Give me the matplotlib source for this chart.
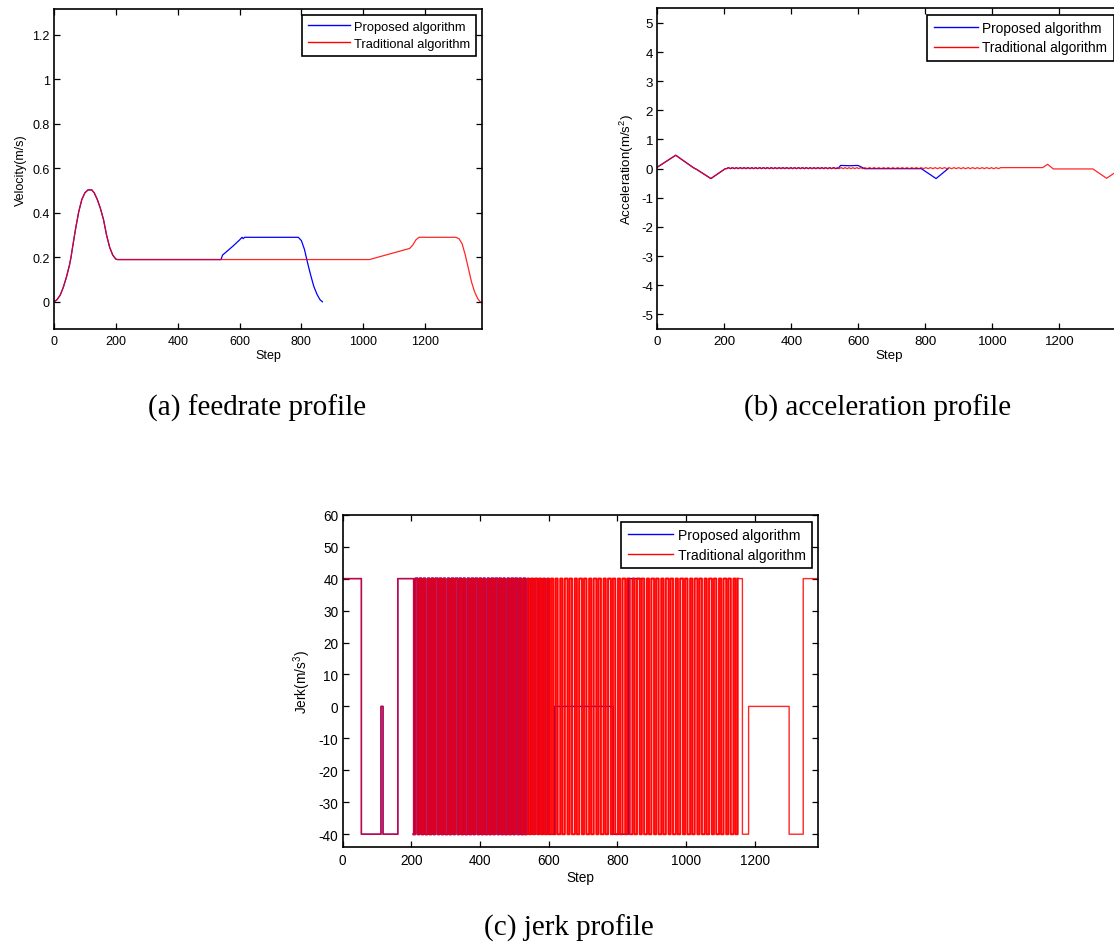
import numpy as np
import matplotlib
matplotlib.use("Agg")
import matplotlib.pyplot as plt

plt.rcParams["font.family"] = ["Liberation Sans", "DejaVu Sans"]
plt.rcParams["axes.unicode_minus"] = False
plt.rcParams["mathtext.default"] = "regular"

BLUE = (0, 0, 1)
RED = (1, 0, 0)
LABELS = ["Proposed algorithm", "Traditional algorithm"]

# ---- (a) feedrate profile: shared start, then each algorithm's own tail
vel_common_step = [0, 10, 20, 30, 40, 50, 55, 60, 70, 80, 90, 100, 110, 122,
                   130, 140, 150, 160, 170, 180, 190, 200, 205, 540]
vel_common_val = [0, 0.01, 0.03, 0.065, 0.11, 0.165, 0.2, 0.245, 0.33, 0.405,
                  0.46, 0.49, 0.503, 0.503, 0.49, 0.46, 0.42, 0.37, 0.30,
                  0.245, 0.21, 0.192, 0.19, 0.19]
vel_prop_step = [545, 560, 580, 600, 608, 612, 616, 790, 800, 810, 820, 830,
                 840, 850, 860, 868]
vel_prop_val = [0.21, 0.228, 0.252, 0.278, 0.29, 0.284, 0.29, 0.29, 0.275,
                0.235, 0.175, 0.12, 0.07, 0.035, 0.01, 0.0]
vel_trad_step = [1020, 1150, 1160, 1170, 1180, 1300, 1310, 1320, 1330, 1340,
                 1350, 1360, 1370, 1378, 1384]
vel_trad_val = [0.19, 0.24, 0.255, 0.278, 0.29, 0.29, 0.283, 0.26, 0.21, 0.15,
                0.09, 0.045, 0.015, 0.0, 0.0]

# ---- (c) jerk profile: switching steps of the bang-bang jerk
jerk_head_step = [0, 55, 112, 118, 161]
jerk_head_val = [40, -40, 0, -40, 40]
# steps where the traditional jerk flips between -40 and +40 (first flip goes to -40)
trad_flips = [207, 212, 219, 224, 230, 236, 241, 248, 253, 259, 265, 270, 277,
              282, 288, 294, 299, 306, 311, 317, 323, 328, 335, 340, 346, 352,
              357, 364, 369, 375, 381, 386, 393, 398, 404, 410, 415, 422, 427,
              433, 439, 444, 451, 456, 462, 468, 473, 480, 485, 491, 497, 502,
              509, 514, 520, 526, 531, 538, 543, 549, 555, 560, 567, 572, 578,
              584, 589, 596, 601, 607, 613,
              620, 626, 634, 640, 647, 655, 661, 668, 676, 682, 689, 697, 703,
              710, 718, 724, 731, 739, 745, 752, 760, 766, 773, 781, 787, 794,
              802, 808, 815, 823, 829, 836, 844, 850, 857, 865, 871, 878, 886,
              892, 899, 907, 913, 920, 928, 934, 941, 949, 955, 962, 970, 976,
              983, 991, 997, 1004, 1012, 1018, 1025, 1033, 1039, 1046, 1054,
              1060, 1067, 1075, 1081, 1088, 1096, 1102, 1109, 1117, 1123, 1130,
              1138, 1144, 1150]
trad_tail_step = [1164, 1182, 1300, 1341, 1384]
trad_tail_val = [-40, 0, -40, 40, 40]
prop_flips = [207, 212, 219, 224, 230, 236, 241, 248, 253, 259, 265, 270, 277,
              282, 288, 294, 299, 306, 311, 317, 323, 328, 335, 340, 346, 352,
              357, 364, 369, 375, 381, 386, 393, 399, 404, 410, 415, 422, 427,
              433, 439, 444, 451, 456, 462, 468, 473, 480, 485, 491, 497, 502,
              509, 515, 520, 527, 533]
prop_tail_step = [541, 547, 552, 558, 563, 570, 575, 581, 586, 592, 597, 601,
                  617, 788, 832, 868]
prop_tail_val = [40, -40, 40, -40, 40, -40, 40, -40, 40, -40, 40, -40, 0, -40,
                 40, 40]

# ---- (b) acceleration profile
acc_head_step = [0, 55, 108, 118, 160, 203]
acc_head_val = [0.05, 0.46, 0.03, -0.03, -0.34, 0.0]
acc_ripple = [0.0, 0.035]          # low / high of the small zig-zag
acc_prop_step = [541, 547, 575, 598, 605, 618, 788, 832, 868]
acc_prop_val = [0.02, 0.11, 0.10, 0.11, 0.08, 0.0, 0.0, -0.34, 0.0]
acc_trad_step = [1025, 1150, 1165, 1182, 1300, 1341, 1384]
acc_trad_val = [0.035, 0.035, 0.15, -0.01, -0.01, -0.33, 0.0]


def alternating(flips, first, second):
    return [first if i % 2 == 0 else second for i in range(len(flips))]


vel_prop_x = vel_common_step + vel_prop_step
vel_prop_y = vel_common_val + vel_prop_val
vel_trad_x = vel_common_step + vel_trad_step
vel_trad_y = vel_common_val + vel_trad_val

prop_dense_y = alternating(prop_flips, -40, 40)
trad_dense_y = alternating(trad_flips, -40, 40)
jerk_prop_x = jerk_head_step + prop_flips + prop_tail_step
jerk_prop_y = jerk_head_val + prop_dense_y + prop_tail_val
jerk_trad_x = jerk_head_step + trad_flips + trad_tail_step
jerk_trad_y = jerk_head_val + trad_dense_y + trad_tail_val

rip_prop = list(prop_flips)
rip_trad = [s for s in trad_flips if s < 1020]
acc_prop_x = acc_head_step + rip_prop + acc_prop_step
acc_prop_y = acc_head_val + alternating(rip_prop, *acc_ripple) + acc_prop_val
acc_trad_x = acc_head_step + rip_trad + acc_trad_step
acc_trad_y = acc_head_val + alternating(rip_trad, *acc_ripple) + acc_trad_val

W, H = 1114, 945
fig = plt.figure(figsize=(W / 100, H / 100), dpi=100)


def px_axes(left, top, right, bottom):
    return fig.add_axes([left / W, 1 - bottom / H, (right - left) / W,
                         (bottom - top) / H])


def style(ax, fs, yticks, ylabels, ylim, ylabel, leg_anchor):
    ax.set_xlim(0, 1384)
    ax.set_ylim(*ylim)
    ax.set_xticks(range(0, 1201, 200))
    ax.set_yticks(yticks)
    ax.set_yticklabels(ylabels)
    ax.tick_params(direction="in", top=True, right=True, length=4, width=0.9,
                   labelsize=fs)
    ax.tick_params(axis="x", pad=4)
    ax.tick_params(axis="y", pad=3)
    for sp in ax.spines.values():
        sp.set_linewidth(1.2)
    ax.set_xlabel("Step", fontsize=fs, labelpad=2)
    ax.set_ylabel(ylabel, fontsize=fs, labelpad=4)
    leg = ax.legend(ax.lines[:2], LABELS, loc="upper right",
                    bbox_to_anchor=leg_anchor,
                    fontsize=fs + 0.3, fancybox=False, framealpha=1,
                    edgecolor="black", handlelength=3.2, handletextpad=0.35,
                    borderpad=0.45, labelspacing=0.4, borderaxespad=0)
    leg.get_frame().set_linewidth(1.2)
    for h in leg.get_lines():
        h.set_alpha(1)
        h.set_linewidth(1.0)


# (a)
ax = px_axes(54, 9.5, 482, 330)
ax.plot(vel_prop_x, vel_prop_y, color=BLUE, lw=0.9)
ax.plot(vel_trad_x, vel_trad_y, color=RED, lw=0.9, alpha=0.85)
style(ax, 9, np.arange(0, 1.21, 0.2), ["0", "0.2", "0.4", "0.6", "0.8", "1", "1.2"],
      (-0.122, 1.318), "Velocity(m/s)", (0.986, 0.98))

# (b)
ax = px_axes(657.3, 9.3, 1121, 330)
ax.plot(acc_prop_x, acc_prop_y, color=BLUE, lw=0.9)
ax.plot(acc_trad_x, acc_trad_y, color=RED, lw=0.9, alpha=0.85)
style(ax, 9.6, range(-5, 6), [str(v) for v in range(-5, 6)], (-5.5, 5.5),
      "Acceleration(m/s$^{2}$)", (0.984, 0.98))

# (c): whole signal thin, the densely switching stretch drawn a bit heavier
ax = px_axes(342.5, 515.7, 818, 848.3)
ax.plot(jerk_prop_x, jerk_prop_y, color=BLUE, lw=1.0, drawstyle="steps-post",
        snap=False)
ax.plot(jerk_trad_x, jerk_trad_y, color=RED, lw=1.0, alpha=0.85,
        drawstyle="steps-post", snap=False)
ax.plot(prop_flips, prop_dense_y, color=BLUE, lw=1.5, drawstyle="steps-post",
        snap=False)
ax.plot(trad_flips, trad_dense_y, color=RED, lw=1.5, alpha=0.85,
        drawstyle="steps-post", snap=False)
style(ax, 9.8, range(-40, 61, 10), [str(v) for v in range(-40, 61, 10)],
      (-44.1, 60), "Jerk(m/s$^{3}$)", (0.987, 0.979))

cap = dict(family=["Liberation Serif"], fontsize=21, ha="center", va="center")
fig.text(257 / W, 1 - 408 / H, "(a) feedrate profile", **cap)
fig.text(878 / W, 1 - 408 / H, "(b) acceleration profile", **cap)
fig.text(569 / W, 1 - 928 / H, "(c) jerk profile", **cap)

fig.savefig("out.png", dpi=100)
